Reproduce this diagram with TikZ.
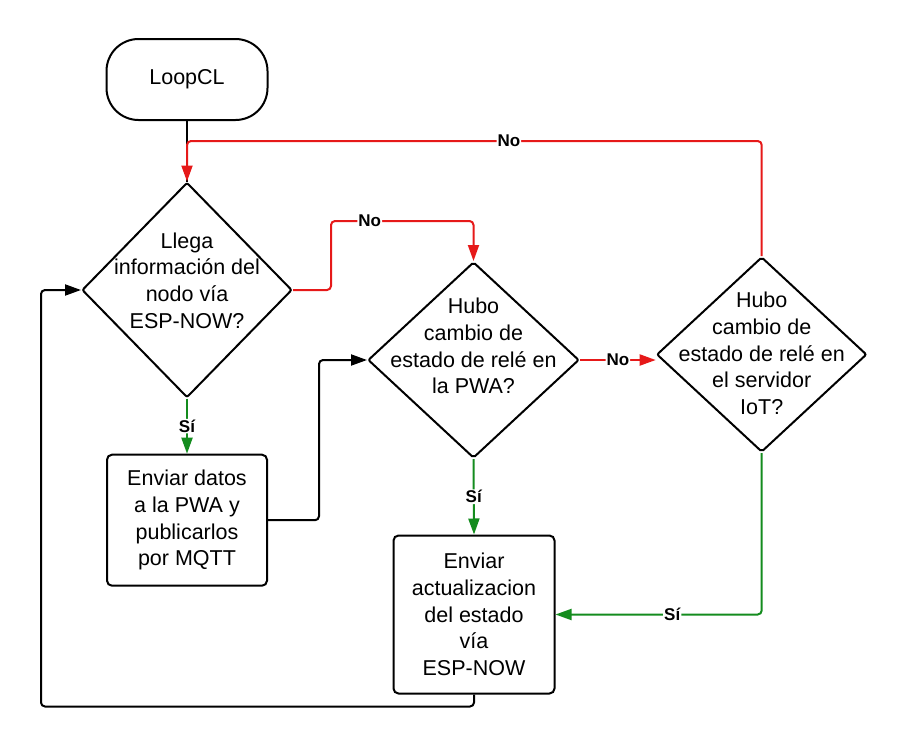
\documentclass[tikz,border=0pt]{standalone}
\usepackage{fontspec}
\setmainfont{Liberation Sans}
\usetikzlibrary{shapes.geometric}
\usetikzlibrary{arrows.meta}

\definecolor{nored}{RGB}{230,25,25}
\definecolor{sigreen}{RGB}{20,140,30}

\begin{document}
\begin{tikzpicture}[x=1pt,y=-1pt,line width=2pt,
      every node/.style={font=\fontsize{21.5}{26.7}\selectfont},
      term/.style={draw,rectangle,rounded corners=32pt,minimum width=161pt,minimum height=81pt},
      decision/.style={draw,diamond,inner sep=0pt,rounded corners=2pt},
      action/.style={draw,rectangle,rounded corners=5pt,minimum width=160pt,align=center},
      txt/.style={align=center,inner sep=0pt},
      lbl/.style={fill=white,inner sep=1pt,font=\fontsize{17}{19}\bfseries\selectfont},
      flow/.style={rounded corners=4pt,-{Triangle[length=16pt,width=11pt]}},
      ]
      \useasboundingbox (0,0) rectangle (910,747);

      % nodes
      \node[term] (loop) at (187,79.5) {LoopCL};
      \node[decision,minimum width=210pt,minimum height=215pt] (d1) at (187,290) {};
      \node[txt] (d1t) at (187,280.5) {Llega\\información del\\nodo vía\\ESP-NOW?};
      \node[decision,minimum width=211pt,minimum height=196pt] (d2) at (473.5,360) {};
      \node[txt] (d2t) at (473.5,346) {Hubo\\cambio de\\estado de relé en\\la PWA?};
      \node[decision,minimum width=210pt,minimum height=195pt] (d3) at (761.7,354.5) {};
      \node[txt] (d3t) at (761.7,353.5) {Hubo\\cambio de\\estado de relé en\\el servidor\\IoT?};
      \node[action,minimum height=131pt] (b1) at (187,520.2) {Enviar datos\\a la PWA y\\publicarlos\\por MQTT};
      \node[action,minimum width=161pt,minimum height=158pt] (b2) at (474,614.5) {Enviar\\actualizacion\\del estado\\vía\\ESP-NOW};

      % connectors
      \draw (loop.south) -- (d1.north);
      \draw[flow,nored] (d3.north) -- ++(0,-115) -| node[lbl,text=black,pos=0.22] {No} (d1.north);
      \draw[flow,nored] (d1.east) -- ++(38,0) -- ++(0,-69) -| node[lbl,text=black,pos=0.136] {No} (d2.north);
      \draw[flow,nored] (d2.east) -- (d2.east -| d3.west) node[lbl,text=black,midway] {No};
      \draw[flow,sigreen] (d1.south) -- (b1.north) node[lbl,text=black,midway] {Sí};
      \draw[flow,sigreen] (d2.south) -- (b2.north) node[lbl,text=black,midway] {Sí};
      \draw[flow,sigreen] (d3.south) |- node[lbl,text=black,pos=0.717] {Sí} (b2.east);
      \draw[flow] (b1.east) -- ++(51,0) |- (d2.west);
      \draw[flow] (b2.south) -- ++(0,12) -| ([xshift=-40pt]d1.west) -- (d1.west);
\end{tikzpicture}
\end{document}
